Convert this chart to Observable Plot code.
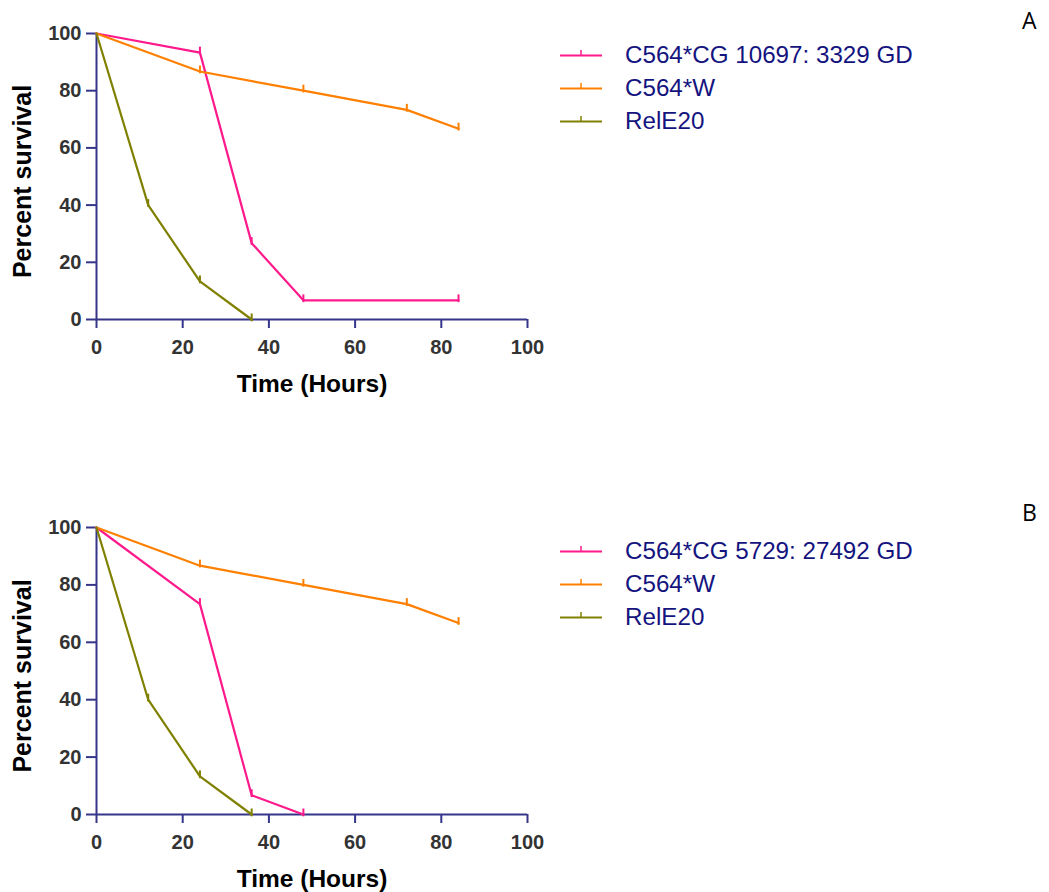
<!DOCTYPE html>
<html>
<head>
<meta charset="utf-8">
<script src="https://cdn.jsdelivr.net/npm/d3@7"></script>
<script src="https://cdn.jsdelivr.net/npm/@observablehq/plot@0.6"></script>
<style>
  html, body { margin: 0; padding: 0; background: #fff; }
  #page { position: relative; width: 1049px; height: 892px; overflow: hidden; }
  .panel { position: absolute; left: 0; width: 1049px; }
  .legend { position: absolute; left: 560px; font-family: "Liberation Sans", Arial, sans-serif; font-size: 24.2px; color: #141480; }
  .legend .row { position: absolute; left: 0; height: 33px; white-space: nowrap; }
  .legend svg { position: absolute; left: 0; top: 0; }
  .legend span { position: absolute; left: 65px; top: 50%; transform: translateY(-50%); line-height: 1; }
  .letter { position: absolute; left: 1022px; font-family: "Open Sans", sans-serif; font-size: 23px; color: #000; }
</style>
</head>
<body>
<div id="page"></div>
<script>
// ---- data ----
const panelLetters = ["A", "B"];
const seriesNamesA = ["C564*CG 10697: 3329 GD", "C564*W", "RelE20"];
const seriesNamesB = ["C564*CG 5729: 27492 GD", "C564*W", "RelE20"];
const seriesColors = ["#ff1a8c", "#ff8000", "#808000"];

// Panel A
const timeA1 = [0, 24, 36, 48, 84];
const survA1 = [100, 93.3, 26.7, 6.7, 6.7];
const timeA2 = [0, 24, 48, 72, 84];
const survA2 = [100, 86.7, 80, 73.3, 66.7];
const timeA3 = [0, 12, 24, 36];
const survA3 = [100, 40, 13.3, 0];

// Panel B
const timeB1 = [0, 24, 36, 48];
const survB1 = [100, 73.3, 6.7, 0];
const timeB2 = [0, 24, 48, 72, 84];
const survB2 = [100, 86.7, 80, 73.3, 66.7];
const timeB3 = [0, 12, 24, 36];
const survB3 = [100, 40, 13.3, 0];

const xTicks = [0, 20, 40, 60, 80, 100];
const yTicks = [0, 20, 40, 60, 80, 100];
const xLabel = "Time (Hours)";
const yLabel = "Percent survival";

// ---- build ----
const axisColor = "#35358a";
const tickText = "#333333";

// vertical censor-tick symbol (points upward from the data point)
const censorTick = {
  draw(context, size) {
    const l = Math.sqrt(size / Math.PI);
    context.moveTo(0, l * 0.6);
    context.lineTo(0, -l * 2);
  }
};

function makeRows(names, times, survs) {
  const rows = [];
  names.forEach((n, i) => {
    times[i].forEach((t, j) => rows.push({series: n, idx: i, time: t, surv: survs[i][j], first: j === 0}));
  });
  return rows;
}

function makePlot(names, times, survs, height, marginBottom) {
  const rows = makeRows(names, times, survs);
  return Plot.plot({
    width: 560,
    height,
    marginLeft: 96,
    marginRight: 33,
    marginTop: 33,
    marginBottom,
    style: {fontFamily: "'Liberation Sans', Arial, sans-serif", background: "transparent", overflow: "visible"},
    x: {domain: [0, 100]},
    y: {domain: [0, 100]},
    color: {domain: names, range: seriesColors},
    marks: [
      Plot.axisX({ticks: xTicks, tickSize: 9, tickPadding: 11, stroke: axisColor, strokeWidth: 2, fill: tickText, fontSize: 20, fontWeight: "bold", label: null}),
      Plot.axisY({ticks: yTicks, tickSize: 10, tickPadding: 5, stroke: axisColor, strokeWidth: 2, fill: tickText, fontSize: 20, fontWeight: "bold", label: null}),
      Plot.ruleY([0], {stroke: axisColor, strokeWidth: 2}),
      Plot.ruleX([0], {stroke: axisColor, strokeWidth: 2}),
      Plot.line(rows, {x: "time", y: "surv", z: "series", stroke: "series", strokeWidth: 2.2}),
      Plot.dot(rows.filter(d => !d.first), {x: "time", y: "surv", stroke: "series", symbol: censorTick, r: 3, strokeWidth: 2, fill: "none"}),
      Plot.text([xLabel], {frameAnchor: "bottom", dy: 65, fontSize: 24.5, fontWeight: "bold", fill: "#000", textAnchor: "middle", lineAnchor: "middle"}),
      Plot.text([yLabel], {frameAnchor: "left", dx: -74, dy: 5, rotate: -90, fontSize: 25, fontWeight: "bold", fill: "#000", textAnchor: "middle", lineAnchor: "middle"})
    ]
  });
}

function makeLegend(names, top) {
  const lg = document.createElement("div");
  lg.className = "legend";
  lg.style.top = top + "px";
  names.forEach((n, i) => {
    const row = document.createElement("div");
    row.className = "row";
    row.style.top = (i * 33 - 16.5) + "px";
    const s = d3.create("svg").attr("width", 44).attr("height", 33);
    s.append("line").attr("x1", 0).attr("x2", 42).attr("y1", 16.5).attr("y2", 16.5)
      .attr("stroke", seriesColors[i]).attr("stroke-width", 2);
    s.append("line").attr("x1", 21).attr("x2", 21).attr("y1", 16.5).attr("y2", 11)
      .attr("stroke", seriesColors[i]).attr("stroke-width", 1.5);
    row.appendChild(s.node());
    const sp = document.createElement("span");
    sp.textContent = n;
    row.appendChild(sp);
    lg.appendChild(row);
  });
  return lg;
}

const page = document.getElementById("page");

const panelA = document.createElement("div");
panelA.className = "panel";
panelA.style.top = "0px";
panelA.appendChild(makePlot(seriesNamesA, [timeA1, timeA2, timeA3], [survA1, survA2, survA3], 400, 81));
page.appendChild(panelA);

const panelB = document.createElement("div");
panelB.className = "panel";
panelB.style.top = "494px";
panelB.appendChild(makePlot(seriesNamesB, [timeB1, timeB2, timeB3], [survB1, survB2, survB3], 398, 78));
page.appendChild(panelB);

page.appendChild(makeLegend(seriesNamesA, 55));
page.appendChild(makeLegend(seriesNamesB, 551));

[[panelLetters[0], 4], [panelLetters[1], 496]].forEach(([t, y]) => {
  const d = document.createElement("div");
  d.className = "letter";
  d.style.top = y + "px";
  d.textContent = t;
  page.appendChild(d);
});
</script>
</body>
</html>
